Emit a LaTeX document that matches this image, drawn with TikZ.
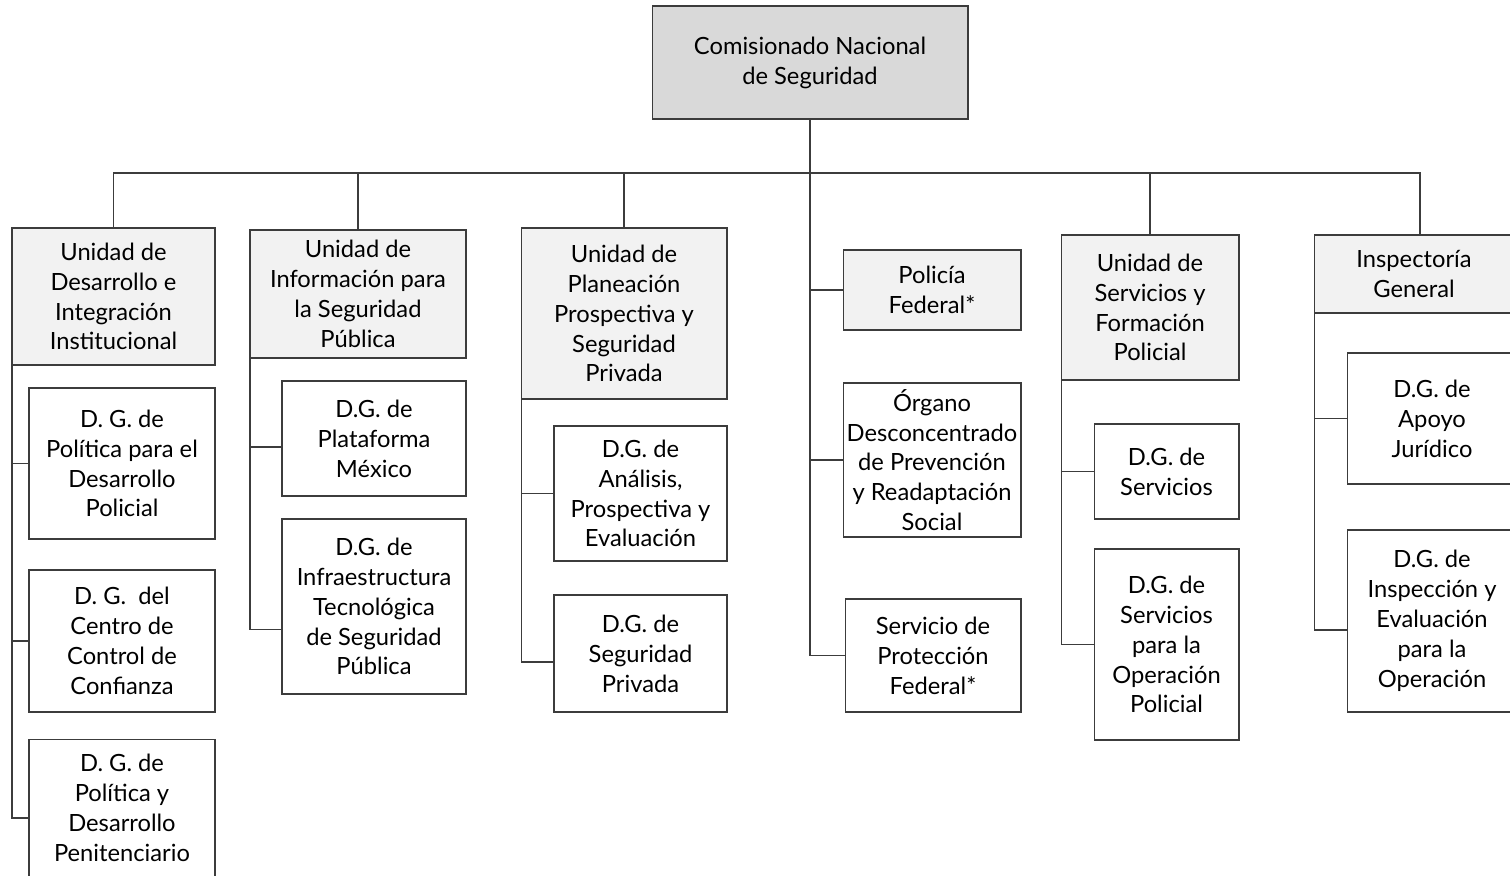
\documentclass[tikz,border=0pt]{standalone}
\usepackage{fontspec}
\setmainfont{Lato}
\usepackage{xcolor}
\usepackage{tikz}
\definecolor{cngray}{RGB}{217,217,217}
\definecolor{unitbg}{RGB}{242,242,242}
\definecolor{lnc}{RGB}{60,60,60}
\tikzset{
  base/.style={draw=lnc, line width=0.6pt, inner sep=0pt, outer sep=0pt, align=center,
    font=\fontsize{13.5}{17}\selectfont},
  topbox/.style={base, fill=cngray},
  unitbox/.style={base, fill=unitbg},
  dgbox/.style={base, fill=white},
  link/.style={draw=lnc, line width=0.6pt},
}

\begin{document}
\begin{tikzpicture}[x=0.02cm, y=-0.02cm]
  \useasboundingbox (0,0) rectangle (1510,875);
  \clip (0,0) rectangle (1510,875);
  \node[topbox, minimum width=6.32cm, minimum height=2.26cm] (cns) at (810,62.5)
    {Comisionado Nacional\\de Seguridad};
  \coordinate (bus) at (810,173);

  \node[unitbox, minimum width=4.06cm, minimum height=2.74cm] (udi) at (113.5,296.5)
    {Unidad de\\Desarrollo e\\Integración\\Institucional};
  \node[dgbox, minimum width=3.72cm, minimum height=3.02cm] (dgpdp) at (122,463.5)
    {D. G. de\\Política para el\\Desarrollo\\Policial};
  \node[dgbox, minimum width=3.72cm, minimum height=2.84cm] (dgccc) at (122,641)
    {D. G.\ \ del\\Centro de\\Control de\\Confianza};
  \node[dgbox, minimum width=3.72cm, minimum height=2.74cm] (dgpdpen) at (122,808)
    {D. G. de\\Política y\\Desarrollo\\Penitenciario};

  \node[unitbox, minimum width=4.32cm, minimum height=2.56cm] (uisp) at (358,294)
    {Unidad de\\Información para\\la Seguridad\\Pública};
  \node[dgbox, minimum width=3.68cm, minimum height=2.30cm] (dgpm) at (374,438.5)
    {D.G. de\\Plataforma\\México};
  \node[dgbox, minimum width=3.68cm, minimum height=3.50cm] (dgits) at (374,606.5)
    {D.G. de\\Infraestructura\\Tecnológica\\de Seguridad\\Pública};

  \node[unitbox, minimum width=4.12cm, minimum height=3.42cm] (upps) at (624,313.5)
    {Unidad de\\Planeación\\Prospectiva y\\Seguridad\\Privada};
  \node[dgbox, minimum width=3.46cm, minimum height=2.70cm] (dgape) at (640.5,493.5)
    {D.G. de\\Análisis,\\Prospectiva y\\Evaluación};
  \node[dgbox, minimum width=3.46cm, minimum height=2.34cm] (dgsp) at (640.5,653.5)
    {D.G. de\\Seguridad\\Privada};

  \node[unitbox, minimum width=3.56cm, minimum height=1.60cm] (pf) at (932,290)
    {Policía\\Federal*};
  \node[dgbox, minimum width=3.56cm, minimum height=3.08cm] (odprs) at (932,460)
    {Órgano\\Desconcentrado\\de Prevención\\y Readaptación\\Social};
  \node[dgbox, minimum width=3.52cm, minimum height=2.26cm] (spf) at (933,655.5)
    {Servicio de\\Protección\\Federal*};

  \node[unitbox, minimum width=3.56cm, minimum height=2.90cm] (usfp) at (1150,307.5)
    {Unidad de\\Servicios y\\Formación\\Policial};
  \node[dgbox, minimum width=2.90cm, minimum height=1.90cm] (dgs) at (1166.5,471.5)
    {D.G. de\\Servicios};
  \node[dgbox, minimum width=2.90cm, minimum height=3.82cm] (dgsop) at (1166.5,644.5)
    {D.G. de\\Servicios\\para la\\Operación\\Policial};

  \node[unitbox, minimum width=4.00cm, minimum height=1.56cm] (ig) at (1414,274)
    {Inspectoría\\General};
  \node[dgbox, minimum width=3.40cm, minimum height=2.62cm] (dgaj) at (1432,418.5)
    {D.G. de\\Apoyo\\Jurídico};
  \node[dgbox, minimum width=3.40cm, minimum height=3.64cm] (dgieo) at (1432,621)
    {D.G. de\\Inspección y\\Evaluación\\para la\\Operación};

  \draw[link] (udi.north) |- (bus) -| ([xshift=0.12cm]ig.north);
  \draw[link] (uisp.north) -- (uisp.north |- bus);
  \draw[link] (upps.north) -- (upps.north |- bus);
  \draw[link] (usfp.north) -- (usfp.north |- bus);
  \draw[link] (cns.south) |- (spf.west);
  \draw[link] (cns.south |- pf.west) -- (pf.west);
  \draw[link] (cns.south |- odprs.west) -- (odprs.west);

  \draw[link] (udi.south west) |- ([yshift=-0.2cm]dgpdpen.west);
  \draw[link] (udi.south west) |- (dgpdp.west);
  \draw[link] (udi.south west) |- (dgccc.west);
  \draw[link] (uisp.south west) |- ([yshift=-0.46cm]dgits.west);
  \draw[link] (uisp.south west) |- ([yshift=-0.17cm]dgpm.west);
  \draw[link] (upps.south west) |- ([yshift=-0.17cm]dgsp.west);
  \draw[link] (upps.south west) |- (dgape.west);
  \draw[link] (usfp.south west) |- (dgsop.west);
  \draw[link] (usfp.south west) |- (dgs.west);
  \draw[link] (ig.south west) |- ([yshift=-0.18cm]dgieo.west);
  \draw[link] (ig.south west) |- (dgaj.west);
\end{tikzpicture}
\end{document}
